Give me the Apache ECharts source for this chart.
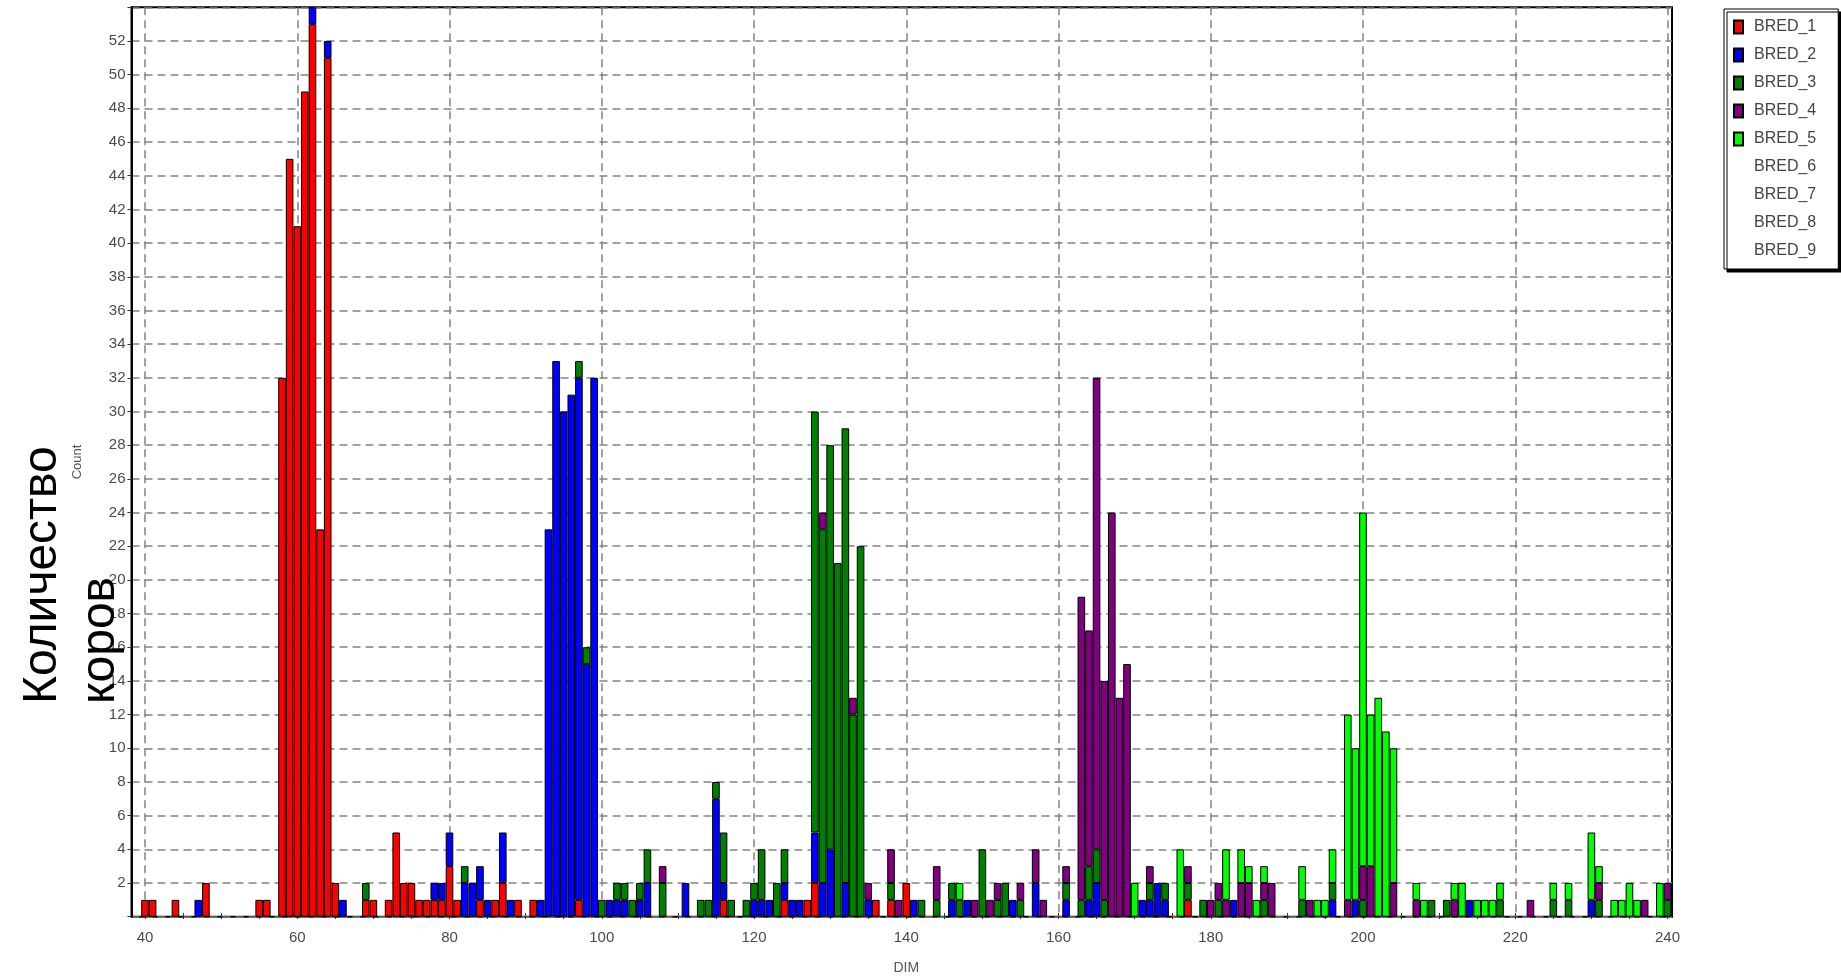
<!DOCTYPE html>
<html><head><meta charset="utf-8">
<script src="https://cdn.jsdelivr.net/npm/echarts@6/dist/echarts.min.js"></script>
<style>html,body{margin:0;padding:0;background:#fff;}#c{width:1841px;height:980px;}</style>
</head><body><div id="c"></div>
<script>
// DIM values run from 40 to 240, one entry per integer DIM
const DIM_FIRST = 40;
const bred1 = [
 1,1,0,0,1,0,0,0,2,0,
 0,0,0,0,0,1,1,0,32,45,
 41,49,53,23,51,2,0,0,0,1,
 1,0,1,5,2,2,1,1,1,1,
 3,1,0,0,1,0,1,2,0,1,
 0,1,0,0,0,0,0,1,0,0,
 0,0,0,0,0,0,0,0,0,0,
 0,0,0,0,0,0,1,0,0,0,
 0,0,0,0,1,0,0,1,2,0,
 0,0,0,0,0,0,1,0,1,0,
 2,0,0,0,0,0,0,0,0,0,
 0,0,0,0,0,0,0,0,0,0,
 0,0,0,0,0,0,0,0,0,0,
 0,0,0,0,0,0,0,1,0,0,
 0,0,0,0,0,0,0,0,0,0,
 0,0,0,0,0,0,0,0,0,0,
 0,0,0,0,0,0,0,0,0,0,
 0,0,0,0,0,0,0,0,0,0,
 0,0,0,0,0,0,0,0,0,0,
 0,0,0,0,0,0,0,0,0,0,
 0];
const bred2 = [
 0,0,0,0,0,0,0,1,0,0,
 0,0,0,0,0,0,0,0,0,0,
 0,0,1,0,1,0,1,0,0,0,
 0,0,0,0,0,0,0,0,1,1,
 2,0,2,2,2,1,0,3,1,0,
 0,0,1,23,33,30,31,31,15,32,
 0,1,1,1,0,1,2,0,0,0,
 0,2,0,0,0,7,1,0,0,0,
 1,1,1,0,1,1,1,0,3,2,
 4,0,2,0,0,1,0,0,0,0,
 0,1,0,0,0,0,1,0,1,0,
 0,0,0,0,1,0,0,2,0,0,
 0,1,0,0,1,2,0,0,0,0,
 0,1,1,2,1,0,0,0,0,0,
 0,0,0,1,0,0,0,0,0,0,
 0,0,0,0,0,0,1,0,0,1,
 0,0,0,0,0,0,0,0,0,0,
 0,0,0,0,1,0,0,0,0,0,
 0,0,0,0,0,0,0,0,0,0,
 1,0,0,0,0,0,0,0,0,0,
 0];
const bred3 = [
 0,0,0,0,0,0,0,0,0,0,
 0,0,0,0,0,0,0,0,0,0,
 0,0,0,0,0,0,0,0,0,1,
 0,0,0,0,0,0,0,0,0,0,
 0,0,1,0,0,0,0,0,0,0,
 0,0,0,0,0,0,0,1,1,0,
 1,0,1,1,1,1,2,0,2,0,
 0,0,0,1,1,1,3,1,0,1,
 1,3,0,2,2,0,0,0,25,21,
 24,21,27,12,22,0,0,0,1,0,
 0,0,1,0,1,0,1,1,0,0,
 4,0,1,2,0,1,0,0,0,0,
 0,1,0,1,2,2,1,0,0,0,
 0,0,1,0,1,0,0,1,0,1,
 0,1,0,0,0,0,0,1,0,0,
 0,0,1,0,0,0,1,0,0,0,
 1,0,0,0,0,0,0,0,0,1,
 0,1,0,0,0,0,0,0,1,0,
 0,0,0,0,0,1,0,1,0,0,
 0,1,0,0,0,0,0,0,0,0,
 1];
const bred4 = [
 0,0,0,0,0,0,0,0,0,0,
 0,0,0,0,0,0,0,0,0,0,
 0,0,0,0,0,0,0,0,0,0,
 0,0,0,0,0,0,0,0,0,0,
 0,0,0,0,0,0,0,0,0,0,
 0,0,0,0,0,0,0,0,0,0,
 0,0,0,0,0,0,0,0,1,0,
 0,0,0,0,0,0,0,0,0,0,
 0,0,0,0,0,0,0,0,0,1,
 0,0,0,1,0,1,0,0,2,1,
 0,0,0,0,2,0,0,0,0,1,
 0,1,1,0,0,1,0,2,1,0,
 0,1,0,18,14,28,13,24,13,15,
 0,0,1,0,0,0,0,1,0,0,
 1,1,1,0,2,2,0,1,2,0,
 0,0,0,1,0,0,0,0,1,0,
 2,3,0,0,2,0,0,1,0,0,
 0,0,1,0,0,0,0,0,0,0,
 0,0,1,0,0,0,0,0,0,0,
 0,1,0,0,0,0,0,1,0,0,
 1];
const bred5 = [
 0,0,0,0,0,0,0,0,0,0,
 0,0,0,0,0,0,0,0,0,0,
 0,0,0,0,0,0,0,0,0,0,
 0,0,0,0,0,0,0,0,0,0,
 0,0,0,0,0,0,0,0,0,0,
 0,0,0,0,0,0,0,0,0,0,
 0,0,0,0,0,0,0,0,0,0,
 0,0,0,0,0,0,0,0,0,0,
 0,0,0,0,0,0,0,0,0,0,
 0,0,0,0,0,0,0,0,0,0,
 0,0,0,0,0,0,0,1,0,0,
 0,0,0,0,0,0,0,0,0,0,
 0,0,0,0,0,0,0,0,0,0,
 2,0,0,0,0,0,4,0,0,0,
 0,0,3,0,2,1,1,1,0,0,
 0,0,2,0,1,1,2,0,11,9,
 21,9,13,11,8,0,0,1,1,0,
 0,0,1,2,0,1,1,1,1,0,
 0,0,0,0,0,1,0,1,0,0,
 4,1,0,1,1,2,1,0,0,2,
 0];
const seriesNames = ['BRED_1','BRED_2','BRED_3','BRED_4','BRED_5','BRED_6','BRED_7','BRED_8','BRED_9'];
const seriesColors = ['#FF0000','#0000FF','#008000','#800080','#00FF00'];
const seriesValues = [bred1, bred2, bred3, bred4, bred5];
const xMin = 40, xMax = 240, xStep = 20;
const yMin = 0, yMax = 54, yStep = 2;

// layout (pixels)
const FRAME_L = 131.5, FRAME_R = 1672, PLOT_T = 7.3, PLOT_B = 916.7;
const X_AT_MIN = 145, X_AT_MAX = 1667.5;
const W = 1841, H = 980;
const UNIT = (X_AT_MAX - X_AT_MIN) / (xMax - xMin);

const dims = bred1.map((_, i) => String(DIM_FIRST + i));

const series = seriesNames.map((name, k) => {
  const vals = seriesValues[k];
  return {
    name, type: 'bar', stack: 'all', xAxisIndex: 2, yAxisIndex: 2,
    barWidth: '100%', barCategoryGap: '0%', silent: true,
    itemStyle: vals ? { color: seriesColors[k], borderColor: '#000', borderWidth: 1 }
                    : { color: 'rgba(0,0,0,0)', borderWidth: 0 },
    data: vals ? vals.map(v => v === 0 ? '-' : v) : []
  };
});

const chart = echarts.init(document.getElementById('c'), null, { renderer: 'canvas' });
const font = '"Liberation Sans", Arial, sans-serif';
const dash = { color: '#828282', width: 1.5, type: [8, 5] };
chart.setOption({
  animation: false,
  backgroundColor: '#fff',
  grid: [
    { left: FRAME_L, right: W - FRAME_R, top: PLOT_T, bottom: H - PLOT_B, show: true,
      borderColor: '#000', borderWidth: 2, backgroundColor: '#fff' },
    { left: X_AT_MIN, right: W - X_AT_MAX, top: PLOT_T, bottom: H - PLOT_B },
    { left: X_AT_MIN - UNIT / 2, right: W - X_AT_MAX - UNIT / 2, top: PLOT_T, bottom: H - PLOT_B }
  ],
  xAxis: [
    { gridIndex: 0, type: 'value', min: 0, max: 1, show: false },
    { gridIndex: 1, type: 'value', min: xMin, max: xMax, interval: xStep,
      name: 'DIM', nameLocation: 'middle', nameGap: 48,
      nameTextStyle: { fontFamily: font, fontSize: 14, color: '#555' },
      axisLine: { show: false },
      axisTick: { show: true, length: 6, lineStyle: { color: '#333' } },
      minorTick: { show: true, splitNumber: 4, length: 6, lineStyle: { color: '#333' } },
      axisLabel: { fontFamily: font, fontSize: 15, color: '#4a4a4a', margin: 17 },
      splitLine: { show: true, lineStyle: dash }
    },
    { gridIndex: 2, type: 'category', data: dims, show: false, boundaryGap: true }
  ],
  yAxis: [
    { gridIndex: 0, type: 'value', min: yMin, max: yMax, interval: yStep,
      name: 'Count', nameLocation: 'middle', nameGap: 48,
      nameTextStyle: { fontFamily: font, fontSize: 13, color: '#555' },
      axisLine: { show: true, lineStyle: { color: '#000', width: 2 } },
      axisTick: { show: true, length: 4, lineStyle: { color: '#333' } },
      axisLabel: { fontFamily: font, fontSize: 15, color: '#4a4a4a', margin: 6,
        formatter: v => (v === yMin || v === yMax) ? '' : String(v) },
      splitLine: { show: true, lineStyle: dash }
    },
    { gridIndex: 1, type: 'value', min: yMin, max: yMax, show: false },
    { gridIndex: 2, type: 'value', min: yMin, max: yMax, show: false }
  ],
  legend: {
    orient: 'vertical', left: 1724, top: 9,
    padding: [10, 22, 10, 9],
    itemWidth: 9, itemHeight: 13, itemGap: 12,
    backgroundColor: '#fff', borderColor: '#000', borderWidth: 1,
    shadowColor: '#000', shadowOffsetX: 3, shadowOffsetY: 3, shadowBlur: 0,
    selectedMode: false,
    textStyle: { fontFamily: font, fontSize: 16, color: '#444', lineHeight: 16, padding: [0, 0, 0, 6] },
    data: seriesNames.map(n => ({ name: n, icon: 'rect' }))
  },
  graphic: [{
    type: 'text', x: 14, y: 704, rotation: Math.PI / 2, z: 100,
    style: { text: 'Количество\nкоров', font: '48px ' + font, fill: '#000',
      textAlign: 'left', textVerticalAlign: 'top', lineHeight: 58 }
  }],
  series
});
</script></body></html>
